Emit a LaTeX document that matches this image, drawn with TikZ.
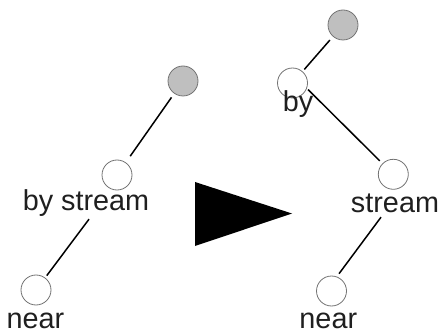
\documentclass[tikz,border=0pt]{standalone}
\usepackage{fontspec}
\setmainfont{Liberation Sans}
\begin{document}
\begin{tikzpicture}[x=1pt,y=-1pt,
  vertex/.style={circle,draw=black!55,line width=0.8pt,fill=white,
    minimum size=30pt,inner sep=0pt,outer sep=0pt},
  rootv/.style={vertex,fill=black!25},
  word/.style={anchor=base,inner sep=0pt,font=\fontsize{28.8}{30}\selectfont,text=black!88},
  edge/.style={draw=black,line width=1.5pt}]
\useasboundingbox (0,0) rectangle (439,331);

% tree before the rotation
\node[rootv]  (lroot) at (183,81) {};
\node[vertex] (lbs)   at (117,175) {};
\node[vertex] (lnear) at (36,290) {};
\node[word] (lbstext)   at (86,211) {by stream};
\node[word] (lneartext) at (35.5,328.5) {near};
\draw[edge, shorten <=5pt, shorten >=8pt] (lroot) -- (lbs);
\draw[edge, shorten >=3pt] ([xshift=3pt,yshift=-2pt]lbstext.south) -- (lnear);

% transformation arrow
\fill[black] (195,182) -- (195,246) -- (292,213.5) -- cycle;

% tree after the rotation
\node[rootv]  (rroot)   at (343,25) {};
\node[vertex] (rby)     at (292.5,83) {};
\node[vertex] (rstream) at (393.3,174.3) {};
\node[vertex] (rnear)   at (331.5,291) {};
\node[word] (rbytext)     at (298,112) {by};
\node[word] (rstreamtext) at (395,212.7) {stream};
\node[word] (rneartext)   at (328.3,328.5) {near};
\draw[edge, shorten <=5pt, shorten >=3pt] (rroot) -- (rby);
\draw[edge, shorten <=2pt, shorten >=4pt] (rby.-20) -- (rstream);
\draw[edge, shorten >=4pt] ([xshift=-14pt,yshift=-4pt]rstreamtext.south) -- (rnear.70);
\end{tikzpicture}
\end{document}
